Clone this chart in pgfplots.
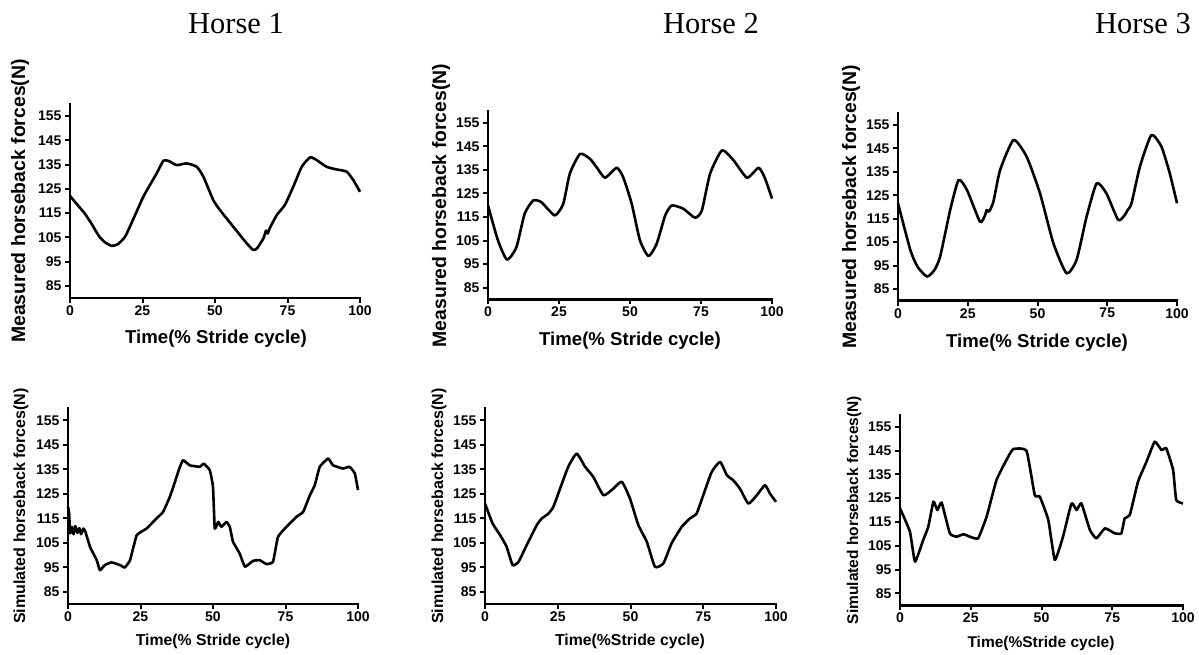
\documentclass[border=0pt]{standalone}
\usepackage{fontspec}
\setmainfont{Liberation Sans}
\newfontfamily\timesf{Liberation Serif}
\usepackage{pgfplots}
\pgfplotsset{compat=1.18}
\pgfplotsset{
  hp/.style={scale only axis, anchor=south west, axis lines=left,
    axis line style={-, line width=2.6pt, line cap=rect},
    xmin=0,xmax=100,ymin=80,ymax=160,
    xtick={0,25,50,75,100}, ytick={85,95,...,155},
    tick align=outside, major tick length=5pt,
    tick style={line width=2pt, black},
    tick label style={font=\fontsize{14}{14}\selectfont\bfseries},
    xticklabel style={yshift=1pt},
    /pgf/number format/assume math mode=true, clip=false},
  hl/.style={black, line width=2.6pt, smooth, tension=0.35, no marks, line join=round}
}
\begin{document}
\begin{tikzpicture}
\useasboundingbox (0,0) rectangle (1199pt,654pt);
% titles
\node[font=\timesf\fontsize{30.5}{32}\selectfont, anchor=base] at (236pt,620pt) {Horse 1};
\node[font=\timesf\fontsize{30.5}{32}\selectfont, anchor=base] at (711pt,620pt) {Horse 2};
\node[font=\timesf\fontsize{30.5}{32}\selectfont, anchor=base] at (1143pt,620pt) {Horse 3};

% ---------- Panel 1 ----------
\begin{axis}[hp, at={(70pt,356pt)}, width=290pt, height=194pt]
\addplot[hl] coordinates {(0,122.1)(2.5,118.5)(5,115)(7.5,110.5)(10,105.5)(12,103)(14.4,101.5)(16.5,102.2)(19,105.3)(22,113)(25.3,121.8)(28,127.5)(29.9,131.4)(32.2,136.6)(34,136.5)(36.8,134.8)(40.2,135.5)(43.7,134.1)(46,130)(49.4,120.4)(51.7,116.3)(56.3,109.4)(60.9,102.6)(63.2,99.8)(64.5,100.5)(66.7,104.6)(67.6,107.8)(68.2,106.6)(68.8,108.6)(71.3,114.2)(74.1,118.4)(77,125.9)(79.9,134.1)(82.8,138)(85,136.9)(88.5,134.1)(92,133)(95.4,132.1)(97.7,128.6)(100,123.8)};
\end{axis}
\node[rotate=90, font=\fontsize{19.4}{20}\selectfont\bfseries] at (20pt,453pt) {Measured horseback forces(N)};
\node[font=\fontsize{18.6}{20}\selectfont\bfseries] at (216pt,315pt) {Time(\% Stride cycle)};

% ---------- Panel 2 ----------
\begin{axis}[hp, at={(488pt,354.5pt)}, width=284pt, height=188.5pt]
\addplot[hl] coordinates {(0,119.9)(3.5,105.1)(6.7,96.9)(10,102.2)(12.9,116.4)(15.9,122.0)(18.8,121.3)(23.5,115.7)(26.5,120.6)(28.8,133.4)(32.4,141.8)(35.9,139.7)(38.2,136.2)(41.2,131.7)(45.3,135.9)(47.6,131.9)(50.6,120.6)(53.5,105.1)(56.5,98.4)(59.4,103.7)(62.4,115.7)(64.7,119.9)(68.8,118.5)(72.9,114.7)(75.3,117.8)(78.2,133.4)(82.4,143.3)(86.5,139.0)(91.2,131.7)(95.3,135.9)(97.6,131.2)(100,122.8)};
\end{axis}
\node[rotate=90, font=\fontsize{19.4}{20}\selectfont\bfseries] at (441pt,448.5pt) {Measured horseback forces(N)};
\node[font=\fontsize{18.6}{20}\selectfont\bfseries] at (630pt,313pt) {Time(\% Stride cycle)};

% ---------- Panel 3 ----------
\begin{axis}[hp, at={(898pt,353.3pt)}, width=279pt, height=187.4pt]
\addplot[hl] coordinates {(0,121.6)(4.4,101.7)(7,94.5)(10.4,90.3)(13,93)(15.1,98.8)(18.7,118.7)(21.7,131.5)(24.7,127.3)(29.4,113.7)(31.2,116.5)(31.8,118.7)(32.6,118)(34.2,122.3)(36.6,135.8)(41.4,148.6)(46.1,141.5)(50.9,125.8)(55.7,104.5)(60.4,91.7)(64,97.4)(67.6,115.9)(71.2,130.1)(74.7,125.8)(78.9,114.5)(81.3,116.6)(82.2,118.5)(83.7,121.6)(86.7,137.2)(90.8,150.7)(94.4,145.8)(97.4,134.4)(100,121.6)};
\end{axis}
\node[rotate=90, font=\fontsize{19.4}{20}\selectfont\bfseries] at (851pt,447pt) {Measured horseback forces(N)};
\node[font=\fontsize{18.6}{20}\selectfont\bfseries] at (1037pt,311pt) {Time(\% Stride cycle)};

% ---------- Panel 4 ----------
\begin{axis}[hp, at={(68pt,50pt)}, width=290pt, height=196pt, hl/.append style={tension=0.2}]
\addplot[hl] coordinates {(0,119.7)(0.4,117)(0.7,108.8)(1.3,111.5)(1.9,108.5)(2.5,111.8)(3.2,109)(3.9,111)(4.5,108.5)(5.3,110.8)(6,109.5)(7.6,103.3)(9.9,97.9)(11,93.8)(12.7,95.9)(15,97)(17.9,95.9)(19.6,94.9)(21.4,97.9)(23.7,108.1)(27.1,110.8)(30.5,114.9)(32.8,117.6)(35.1,123.7)(36.3,127.8)(38.6,136)(39.7,138.7)(42,136.6)(45.5,136)(46.8,137.3)(48.9,134.6)(50,127.8)(50.6,110.8)(51.8,113.5)(52.9,111.5)(54.6,113.5)(55.8,111.5)(56.9,105.4)(59.2,100.6)(61,95.2)(63.8,97.6)(66.1,97.9)(68.4,96.3)(70.7,97.2)(72.4,107.4)(75.3,111.5)(78.8,115.6)(81.1,117.6)(83.4,124.4)(85.1,128.5)(86.8,136)(89.7,139.4)(91.4,136.6)(94.8,135.3)(97.1,136)(98.9,133.3)(100,126.5)};
\end{axis}
\node[rotate=90, font=\fontsize{16}{17}\selectfont\bfseries] at (21pt,148pt) {Simulated horseback forces(N)};
\node[font=\fontsize{15.8}{17}\selectfont\bfseries] at (213pt,13pt) {Time(\% Stride cycle)};

% ---------- Panel 5 ----------
\begin{axis}[hp, at={(485pt,50pt)}, width=291pt, height=196pt, hl/.append style={tension=0.3}]
\addplot[hl] coordinates {(0,121)(2.6,112.9)(5.2,108.1)(7.4,103.4)(9.5,95.9)(11.5,97.2)(14.3,104)(17.8,112.2)(19.5,114.9)(21.8,116.9)(23.5,119.7)(25.8,127.1)(28.6,136)(31.5,141.4)(34.4,136)(37.2,131.9)(40.7,124.4)(44.1,127.1)(47,129.9)(49.8,123.1)(52.7,112.2)(55.6,105.4)(58.4,95.2)(61.3,96.6)(64.1,104.7)(67.6,111.5)(70.4,114.9)(72.7,116.9)(75,124.4)(77.9,133.9)(80.8,138)(83.1,132.6)(85.3,130.5)(87.6,127.1)(90.5,121)(93.4,124.4)(96.2,128.5)(97.9,125.1)(100,121.7)};
\end{axis}
\node[rotate=90, font=\fontsize{16}{17}\selectfont\bfseries] at (439pt,148pt) {Simulated horseback forces(N)};
\node[font=\fontsize{15.8}{17}\selectfont\bfseries] at (630pt,13pt) {Time(\%Stride cycle)};

% ---------- Panel 6 ----------
\begin{axis}[hp, at={(900pt,48.8pt)}, width=283pt, height=190.4pt, hl/.append style={tension=0.25}]
\addplot[hl] coordinates {(0,120.7)(3.5,110.9)(5.3,98.3)(8.2,107.4)(10,113)(11.8,123.5)(13.2,120)(14.7,123.1)(17.6,110.2)(20,108.8)(22.4,109.8)(24.7,108.8)(27.6,108.1)(30.6,117.2)(34.1,132.6)(37.6,141)(40,145.6)(44.7,144.9)(47.6,126.3)(49.4,125.6)(52.4,115.8)(54.7,99)(57.6,108.8)(60.6,122.8)(62.4,120)(64.1,122.8)(67.1,111.6)(69.4,108.1)(72.4,112.3)(75.9,110.2)(78.2,110.2)(79.4,116.5)(81.2,117.9)(84.1,131.9)(87.1,140.3)(90,148.7)(92.4,145.2)(94.1,145.9)(96.5,136.8)(97.6,124.2)(100,122.8)};
\end{axis}
\node[rotate=90, font=\fontsize{15.5}{17}\selectfont\bfseries] at (854pt,144pt) {Simulated horseback forces(N)};
\node[font=\fontsize{15.5}{17}\selectfont\bfseries] at (1041pt,11pt) {Time(\%Stride cycle)};
\end{tikzpicture}
\end{document}
